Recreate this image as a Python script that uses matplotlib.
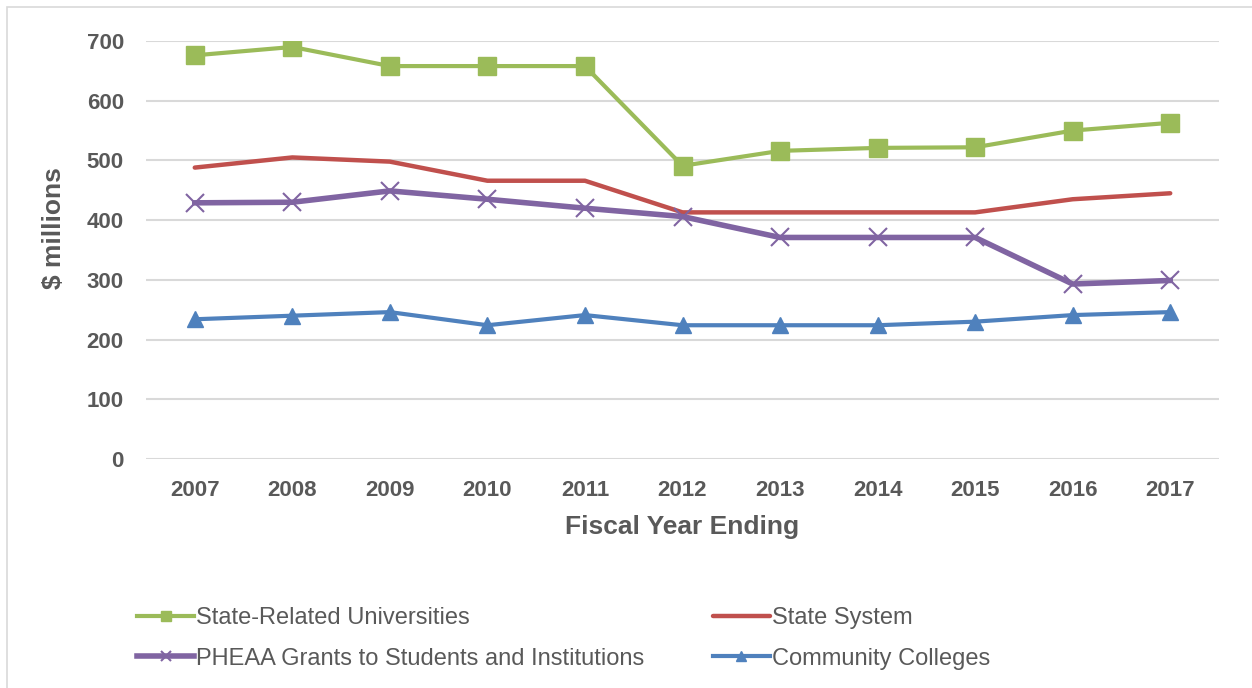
import matplotlib.pyplot as plt
from matplotlib.patches import Rectangle

plt.rcParams["font.family"] = ["Liberation Sans", "DejaVu Sans"]

years = ["2007", "2008", "2009", "2010", "2011", "2012", "2013", "2014", "2015", "2016", "2017"]
state_related = [676, 690, 658, 658, 658, 491, 516, 521, 522, 550, 563]
state_system = [488, 505, 498, 466, 466, 413, 413, 413, 413, 435, 445]
pheaa = [429, 430, 449, 435, 420, 406, 371, 371, 371, 293, 299]
community = [234, 240, 246, 224, 241, 224, 224, 224, 230, 241, 246]

text_gray = "#595959"

fig = plt.figure(figsize=(12.52, 6.88), dpi=100)
fig.patches.append(Rectangle((7 / 1252, -0.1), 1.2, 1 - 7 / 688 + 0.1,
                             transform=fig.transFigure, fill=False,
                             edgecolor="#D9D9D9", linewidth=1.2))
ax = fig.add_axes([146 / 1252, 229 / 688, 1073 / 1252, 418 / 688])

x = range(len(years))
l1, = ax.plot(x, state_related, color="#9BBB59", lw=3, marker="s", ms=12.5,
              label="State-Related Universities", zorder=3)
l2, = ax.plot(x, state_system, color="#C0504D", lw=3.2, solid_capstyle="round",
              label="State System", zorder=3)
l3, = ax.plot(x, pheaa, color="#8064A2", lw=4, marker="x", ms=13, mew=1.5,
              label="PHEAA Grants to Students and Institutions", zorder=3)
l4, = ax.plot(x, community, color="#4F81BD", lw=3, marker="^", ms=11.5,
              label="Community Colleges", zorder=3)

ax.set_xlim(-0.5, len(years) - 0.5)
ax.set_ylim(0, 700)
ax.set_yticks(range(0, 701, 100))
ax.set_xticks(list(x))
ax.set_xticklabels(years)
ax.grid(axis="y", color="#D9D9D9", lw=1.5)
ax.set_axisbelow(True)
for s in ax.spines.values():
    s.set_visible(False)
ax.tick_params(length=0, labelsize=16, labelcolor=text_gray)
for t in ax.get_xticklabels() + ax.get_yticklabels():
    t.set_fontweight("bold")
ax.tick_params(axis="x", pad=15)
ax.tick_params(axis="y", pad=16)

ax.set_xlabel("Fiscal Year Ending", fontsize=19, fontweight="bold", color=text_gray, labelpad=10)
ax.set_ylabel("$ millions", fontsize=19, fontweight="bold", color=text_gray)
ax.yaxis.set_label_coords(-0.075, 0.553)

# row-wise order: two entries per row
fig.legend([l1, l3, l2, l4], [l.get_label() for l in (l1, l3, l2, l4)],
           loc="lower left", bbox_to_anchor=(116 / 1252, -3 / 688), ncol=2,
           frameon=False, fontsize=17, labelcolor=text_gray, handlelength=2.4,
           handletextpad=0.1, columnspacing=2.9, labelspacing=0.8, markerscale=0.6)

fig.savefig("out.png", dpi=100)
